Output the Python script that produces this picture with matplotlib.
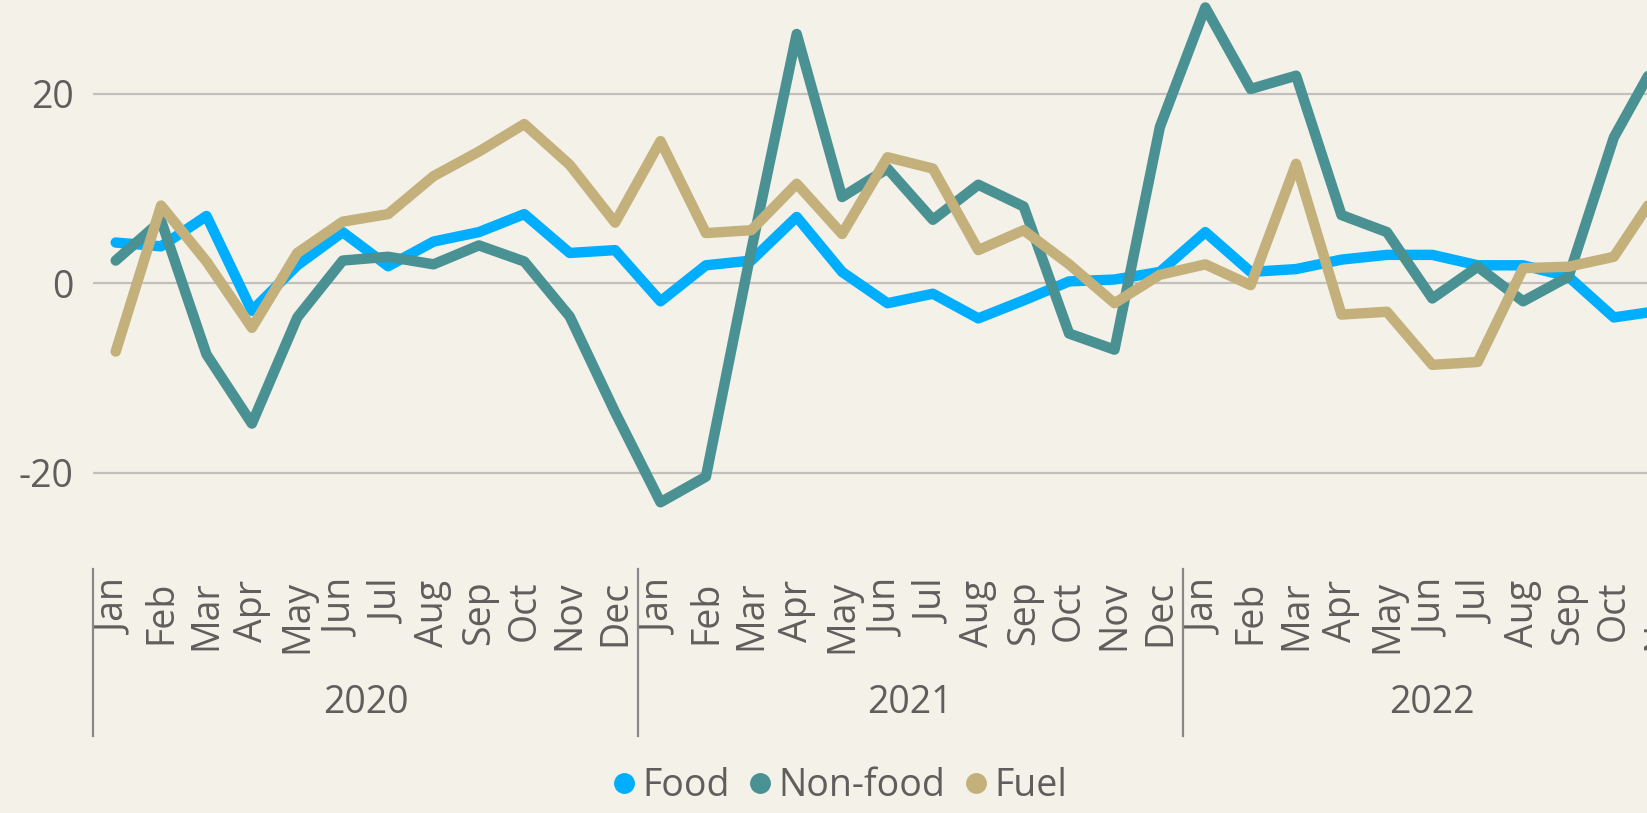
import numpy as np
import matplotlib.pyplot as plt
import matplotlib.transforms as mtransforms
from matplotlib.lines import Line2D

# monthly change, Jan 2020 .. Nov 2022
months = ['Jan', 'Feb', 'Mar', 'Apr', 'May', 'Jun', 'Jul', 'Aug', 'Sep', 'Oct', 'Nov', 'Dec'] * 2 + \
         ['Jan', 'Feb', 'Mar', 'Apr', 'May', 'Jun', 'Jul', 'Aug', 'Sep', 'Oct', 'Nov']
years = ['2020'] * 12 + ['2021'] * 12 + ['2022'] * 11

food = [4.3, 3.9, 7.1, -2.9, 1.9, 5.4, 1.8, 4.4, 5.4, 7.3, 3.2, 3.5,
        -1.9, 1.9, 2.4, 7.0, 1.2, -2.1, -1.1, -3.7, -1.8, 0.2, 0.4, 1.2,
        5.4, 1.2, 1.5, 2.5, 3.0, 3.0, 1.9, 1.9, 0.7, -3.6, -2.9]
nonfood = [2.4, 6.6, -7.5, -14.8, -3.6, 2.4, 2.8, 2.0, 4.0, 2.3, -3.5, -13.6,
           -23.1, -20.4, 3.5, 26.3, 9.1, 12.1, 6.7, 10.4, 8.1, -5.3, -7.0, 16.5,
           29.1, 20.5, 21.9, 7.2, 5.4, -1.6, 1.75, -1.9, 0.7, 15.4, 24.0]
fuel = [-7.2, 8.2, 2.3, -4.7, 3.2, 6.5, 7.3, 11.3, 13.9, 16.8, 12.5, 6.4,
        15.0, 5.3, 5.6, 10.5, 5.2, 13.3, 12.1, 3.5, 5.6, 2.0, -2.1, 0.9,
        2.0, -0.2, 12.6, -3.3, -3.0, -8.6, -8.3, 1.6, 1.75, 2.8, 10.0]

series_names = ['Food', 'Non-food', 'Fuel']
colors = ['#00AEFF', '#4A9194', '#C4B07B']

bg = '#F4F1E9'
txt = '#605E5C'
plt.rcParams['font.family'] = ['Open Sans', 'DejaVu Sans']

W, H = 1647, 813
fig = plt.figure(figsize=(W / 100, H / 100), dpi=100, facecolor=bg)
band = 45.4
x0 = 93
ax = fig.add_axes([x0 / W, (H - 567.7) / H, len(months) * band / W, 568.8 / H])
ax.set_facecolor(bg)

x = np.arange(len(months))
for vals, name, c in zip([food, nonfood, fuel], series_names, colors):
    ax.plot(x, vals, color=c, lw=7.5, solid_joinstyle='round', solid_capstyle='round', label=name)

ax.set_xlim(-0.5, len(months) - 0.5)
ax.set_ylim(-30, 30)
ax.set_yticks([-20, 0, 20])
ax.set_yticklabels(['-20', '0', '20'])
ax.yaxis.grid(True, color='#C2C0BC', lw=1.6)
ax.set_axisbelow(True)
for s in ax.spines.values():
    s.set_visible(False)

ax.set_xticks(x)
ax.set_xticklabels(months, rotation=90)
ax.tick_params(axis='x', length=0, pad=9, labelsize=27, labelcolor=txt)
ax.tick_params(axis='y', length=0, pad=14, labelsize=27, labelcolor=txt)

# year groups + separators
trans = mtransforms.blended_transform_factory(ax.transData, fig.transFigure)
yy = np.array(years)
for yr in ['2020', '2021', '2022']:
    idx = np.where(yy == yr)[0]
    ax.text((idx[0] + idx[-1]) / 2, (H - 703) / H, yr, transform=trans, ha='center', va='center',
            fontsize=27, color=txt)
    ax.plot([idx[0] - 0.5] * 2, [(H - 569) / H, (H - 736) / H], transform=trans,
            color='#8A8886', lw=1.6, clip_on=False)

handles = [Line2D([], [], marker='o', ls='none', color=c, markersize=14) for c in colors]
leg = fig.legend(handles, series_names, loc='center', bbox_to_anchor=(0.51, (H - 786) / H), ncol=3,
                 frameon=False, fontsize=27, handlelength=0.6, handletextpad=0.2, columnspacing=0.5,
                 borderpad=0)
for t in leg.get_texts():
    t.set_color(txt)

fig.savefig('out.png', dpi=100, facecolor=bg)
